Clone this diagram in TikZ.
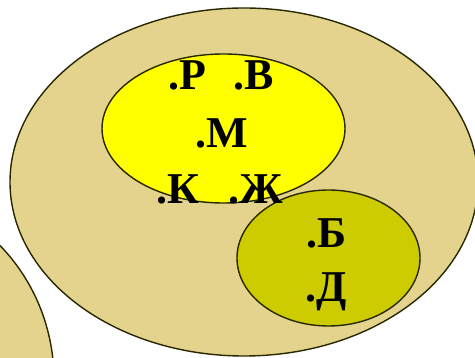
\documentclass[tikz,border=0pt]{standalone}
\usepackage{fontspec}
\setmainfont{Liberation Serif}
\usetikzlibrary{shapes.geometric}
\definecolor{tanfill}{RGB}{227,211,140}
\definecolor{yellowfill}{RGB}{255,255,0}
\definecolor{olivefill}{RGB}{204,204,0}
\definecolor{edgecol}{RGB}{40,40,0}
\tikzset{
  setshape/.style={ellipse, draw=edgecol, line width=1.4pt, inner sep=0pt},
  lbl/.style={anchor=base west, inner sep=0pt, font=\fontsize{44}{44}\selectfont\bfseries}
}
\begin{document}
\begin{tikzpicture}[x=1pt,y=-1pt]
\useasboundingbox (0,0) rectangle (475,358);
\clip (0,0) rectangle (475,358);
\node[setshape, fill=tanfill, minimum width=368pt, minimum height=380pt] (other) at (-130,380) {};
\node[setshape, fill=tanfill, minimum width=468pt, minimum height=348pt] (big) at (244,182) {};
\node[setshape, fill=yellowfill, minimum width=243pt, minimum height=149pt] (yel) at (223.5,128.5) {};
\node[setshape, fill=olivefill, minimum width=183pt, minimum height=136pt] (oli) at (328.5,258) {};
\node[lbl] (r) at (168,90) {.Р};
\node[lbl] (v) at (233,90) {.В};
\node[lbl] (m) at (195,148) {.М};
\node[lbl] (k) at (156,204) {.К};
\node[lbl] (zh) at (228,204) {.Ж};
\node[lbl] (b) at (306,248) {.Б};
\node[lbl] (d) at (305,302) {.Д};
\end{tikzpicture}
\end{document}
